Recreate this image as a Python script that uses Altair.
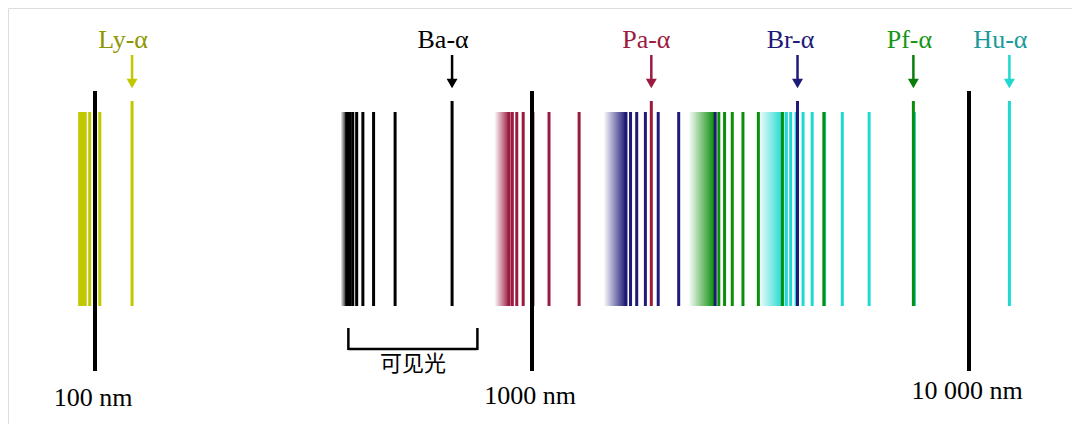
import altair as alt
import pandas as pd

# ---------------- data (wavelengths in nm) ----------------
series = ["Lyman", "Balmer", "Paschen", "Brackett", "Pfund", "Humphreys"]
alpha_labels = ["Ly-α", "Ba-α", "Pa-α", "Br-α", "Pf-α", "Hu-α"]

lyman = [121.57, 102.57, 97.25, 94.97, 93.78, 93.07, 92.62, 92.31]
balmer = [656.3, 486.1, 434.0, 410.2, 397.0, 388.9, 383.5, 379.8, 377.1]
paschen = [1875.1, 1281.8, 1093.8, 1004.9, 954.6, 922.9, 901.5, 886.3]
brackett = [4051.2, 2625.9, 2166.1, 1944.6, 1817.4, 1736.2, 1680.7, 1640.7]
pfund = [7459.9, 4653.8, 3740.6, 3296.1, 3039.2, 2872.7, 2758.3, 2675.9, 2614.4]
humphreys = [12371.9, 7502.5, 5908.2, 5128.7, 4672.5, 4376.5, 4171.1, 4021.1,
             3907.5, 3819.4, 3749.2]
series_lines = [lyman, balmer, paschen, brackett, pfund, humphreys]

limits = [91.18, 364.6, 820.4, 1458.0, 2279.0, 3282.0]      # series limits
dense_ends = [92.3, 377.1, 886.3, 1640.7, 2614.4, 3749.2]   # end of the dense band

ticks = [100, 1000, 10000]
tick_labels = ["100 nm", "1000 nm", "10 000 nm"]
visible = [380, 750]
visible_label = "可见光"

# ---------------- styles ----------------
line_colors = ["#c2c800", "#000000", "#9b1a40", "#1e1a78", "#0b8f0b", "#1fd8d2"]
arrow_colors = ["#c2c800", "#000000", "#9b1a40", "#1e1a78", "#0b7d0b", "#1fd8d2"]
label_colors = ["#8c9600", "#000000", "#9b1a40", "#1e1a78", "#149614", "#1a9a9a"]
label_dx = [-9, -9, -5, -7, -4, -9]
tick_label_y = [390, 388, 383]

W, H = 1064, 416
X0, DEC = 87, 437  # pixel of 100 nm, pixels per decade
xscale = alt.Scale(type="log", domain=[10 ** (2 - X0 / DEC), 10 ** (2 + (W - X0) / DEC)],
                   nice=False, zero=False)

def X(field):
    return alt.X(field, type="quantitative", scale=xscale, axis=None)

layers = []
# draw series from the long-wavelength end so shorter series sit on top
for i in reversed(range(len(series))):
    c = line_colors[i]
    band = pd.DataFrame({"lim": [limits[i]], "end": [dense_ends[i]]})
    grad = alt.Gradient(gradient="linear",
                        stops=[alt.GradientStop(color="#ffffff", offset=0),
                               alt.GradientStop(color=c, offset=1)],
                        x1=0, x2=1, y1=0, y2=0)
    layers.append(alt.Chart(band).mark_rect(color=grad).encode(
        x=X("lim"), x2=alt.X2("end"), y=alt.value(104), y2=alt.value(298)))
    wl = series_lines[i]
    others = pd.DataFrame({"wl": wl[1:]})
    layers.append(alt.Chart(others).mark_rule(color=c, strokeWidth=3).encode(
        x=X("wl"), y=alt.value(104), y2=alt.value(298)))
    alpha = pd.DataFrame({"wl": [wl[0]]})
    layers.append(alt.Chart(alpha).mark_rule(color=c, strokeWidth=3).encode(
        x=X("wl"), y=alt.value(93), y2=alt.value(298)))

# arrows and labels for the alpha lines
for i in range(len(series)):
    a = pd.DataFrame({"wl": [series_lines[i][0]], "label": [alpha_labels[i]]})
    layers.append(alt.Chart(a).mark_rule(color=arrow_colors[i], strokeWidth=2.5).encode(
        x=X("wl"), y=alt.value(47), y2=alt.value(73)))
    layers.append(alt.Chart(a).mark_point(shape="triangle-down", filled=True, size=120,
                                          color=arrow_colors[i], opacity=1).encode(
        x=X("wl"), y=alt.value(75.5)))
    layers.append(alt.Chart(a).mark_text(font="Liberation Serif", fontSize=26,
                                         color=label_colors[i], dx=label_dx[i],
                                         baseline="middle", align="center").encode(
        x=X("wl"), y=alt.value(32), text="label:N"))

# decade markers
tk = pd.DataFrame({"wl": ticks})
layers.append(alt.Chart(tk).mark_rule(color="#000000", strokeWidth=4).encode(
    x=X("wl"), y=alt.value(83), y2=alt.value(363)))
for j in range(len(ticks)):
    t = pd.DataFrame({"wl": [ticks[j]], "label": [tick_labels[j]]})
    layers.append(alt.Chart(t).mark_text(font="Liberation Serif", fontSize=26,
                                         color="#000000", dx=-2, baseline="middle",
                                         align="center").encode(
        x=X("wl"), y=alt.value(tick_label_y[j]), text="label:N"))

# visible-light bracket
vis = pd.DataFrame({"wl": visible})
layers.append(alt.Chart(vis).mark_rule(color="#000000", strokeWidth=2.5).encode(
    x=X("wl"), y=alt.value(320), y2=alt.value(342)))
vb = pd.DataFrame({"a": [visible[0]], "b": [visible[1]]})
layers.append(alt.Chart(vb).mark_rule(color="#000000", strokeWidth=2.5).encode(
    x=X("a"), x2=alt.X2("b"), y=alt.value(341)))
vl = pd.DataFrame({"wl": [(visible[0] * visible[1]) ** 0.5], "label": [visible_label]})
layers.append(alt.Chart(vl).mark_text(font="Noto Sans CJK SC", fontSize=22,
                                      color="#000000", baseline="middle",
                                      align="center").encode(
    x=X("wl"), y=alt.value(356), text="label:N"))

chart = alt.layer(*layers).properties(
    width=W, height=H,
    autosize=alt.AutoSizeParams(type="none"),
    padding=0,
).configure_view(stroke=None).configure(background="#ffffff")

chart.save("out.html", embed_options={"renderer": "svg", "actions": False})
